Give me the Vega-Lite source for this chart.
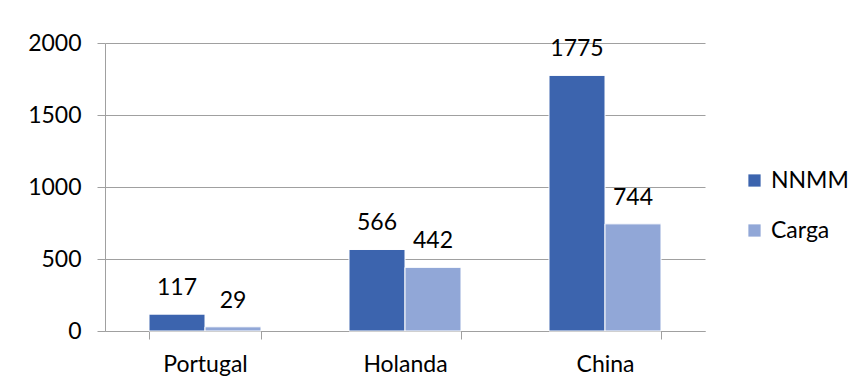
{
  "$schema": "https://vega.github.io/schema/vega-lite/v6.json",
  "autosize": "none",
  "width": 600,
  "height": 288,
  "padding": {"left": 105, "top": 43, "right": 155, "bottom": 59},
  "background": "white",
  "data": {"values": [
    {"pais": "Portugal", "serie": "NNMM", "valor": 117},
    {"pais": "Portugal", "serie": "Carga", "valor": 29},
    {"pais": "Holanda", "serie": "NNMM", "valor": 566},
    {"pais": "Holanda", "serie": "Carga", "valor": 442},
    {"pais": "China", "serie": "NNMM", "valor": 1775},
    {"pais": "China", "serie": "Carga", "valor": 744}
  ]},
  "encoding": {
    "x": {"field": "pais", "type": "nominal", "sort": ["Portugal", "Holanda", "China"],
      "scale": {"paddingInner": 0.44, "paddingOuter": 0.22},
      "axis": {"title": null, "labelAngle": 0, "tickBand": "extent", "tickSize": 8, "labelPadding": 14,
        "domainColor": "#a0a0a0", "tickColor": "#a0a0a0", "labelFont": "Lato", "labelFontSize": 23, "labelColor": "#000000"}},
    "xOffset": {"field": "serie", "type": "nominal", "sort": ["NNMM", "Carga"], "scale": {"paddingInner": 0, "paddingOuter": 0}},
    "y": {"field": "valor", "type": "quantitative", "scale": {"domain": [0, 2000], "nice": false},
      "axis": {"title": null, "values": [0, 500, 1000, 1500, 2000], "format": "d", "tickSize": 8, "labelPadding": 16,
        "grid": true, "gridColor": "#a0a0a0", "domain": true, "domainColor": "#a0a0a0", "tickColor": "#a0a0a0",
        "labelFont": "Lato", "labelFontSize": 23, "labelColor": "#000000"}}
  },
  "layer": [
    {
      "mark": {"type": "bar", "stroke": "white", "strokeWidth": 1},
      "encoding": {
        "color": {"field": "serie", "type": "nominal", "sort": ["NNMM", "Carga"],
          "scale": {"domain": ["NNMM", "Carga"], "range": ["#3c64ae", "#91a7d7"]},
          "legend": {"title": null, "orient": "none", "legendX": 638, "legendY": 126,
            "symbolType": "square", "symbolSize": 150, "symbolStrokeWidth": 0,
            "labelFont": "Lato", "labelFontSize": 23, "labelColor": "#000000", "rowPadding": 26, "labelOffset": 5}}
      }
    },
    {
      "mark": {"type": "text", "baseline": "alphabetic", "dy": -19, "font": "Lato", "fontSize": 23, "color": "#000000"},
      "encoding": {"text": {"field": "valor", "type": "quantitative", "format": "d"}}
    }
  ],
  "config": {"view": {"stroke": null}}
}
